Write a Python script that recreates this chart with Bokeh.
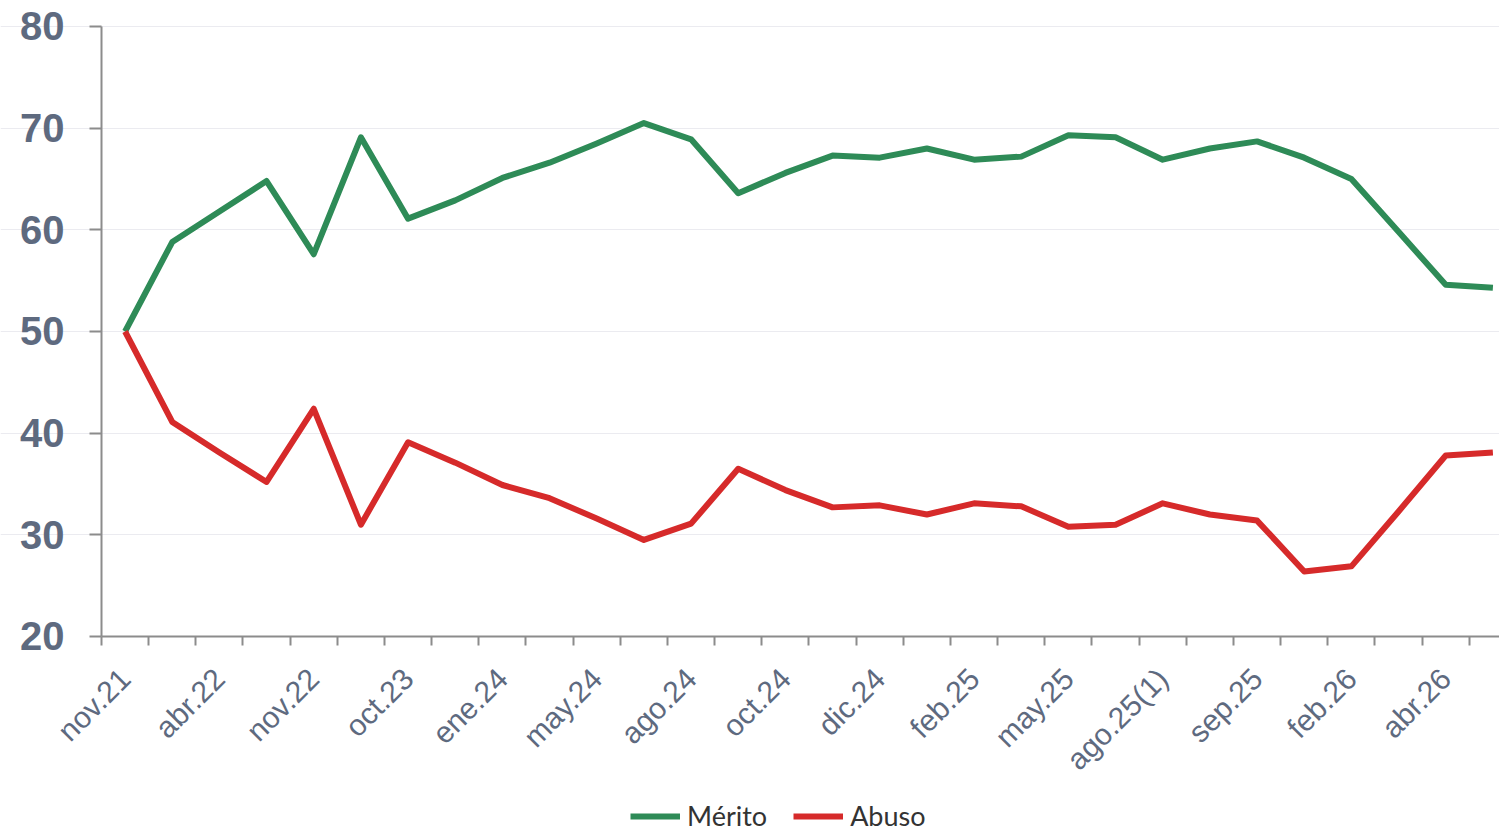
import math
from bokeh.plotting import figure
from bokeh.models import Range1d, FixedTicker, Legend, LegendItem
from bokeh.embed import file_html
from bokeh.resources import INLINE

tick_labels = ["nov.21", "abr.22", "nov.22", "oct.23", "ene.24", "may.24", "ago.24",
               "oct.24", "dic.24", "feb.25", "may.25", "ago.25(1)", "sep.25", "feb.26", "abr.26"]

merito = [50.0, 58.8, 61.8, 64.8, 57.6, 69.1, 61.1, 62.9, 65.1, 66.6,
          68.5, 70.5, 68.9, 63.6, 65.6, 67.3, 67.1, 68.0, 66.9, 67.2,
          69.3, 69.1, 66.9, 68.0, 68.7, 67.1, 65.0, 59.8, 54.6, 54.3]
abuso = [50.0, 41.1, 38.1, 35.2, 42.4, 31.0, 39.1, 37.1, 34.9, 33.6,
         31.6, 29.5, 31.1, 36.5, 34.4, 32.7, 32.9, 32.0, 33.1, 32.8,
         30.8, 31.0, 33.1, 32.0, 31.4, 26.4, 26.9, 32.3, 37.8, 38.1]

x = list(range(len(merito)))

TXT = "#5e6a7f"
AX = "#8c8c8c"

# the frame covers the whole figure; both axes are pinned inside it
p = figure(width=1499, height=832, output_backend="svg", toolbar_location=None,
           x_range=Range1d(-2.641, 29.14), y_range=Range1d(0.72, 82.557),
           min_border_left=0, min_border_top=0, min_border_right=0,
           min_border_bottom=0)
p.outline_line_color = None
p.background_fill_color = "white"

r1 = p.line(x, merito, line_width=6, color="#2e8b57", line_join="round")
r2 = p.line(x, abuso, line_width=6, color="#d62a2a", line_join="round")

# grid
p.xgrid.grid_line_color = None
p.ygrid.ticker = FixedTicker(ticks=[30, 40, 50, 60, 70, 80])
p.ygrid.bounds = (-0.5, 30)
p.ygrid.grid_line_color = "#ebebf0"
p.ygrid.grid_line_width = 1

# y axis
p.yaxis.fixed_location = -0.5
p.yaxis.ticker = FixedTicker(ticks=[20, 30, 40, 50, 60, 70, 80])
p.yaxis.bounds = (20, 80)
p.yaxis.axis_line_color = AX
p.yaxis.axis_line_width = 2
p.yaxis.major_tick_line_color = AX
p.yaxis.major_tick_line_width = 2
p.yaxis.major_tick_out = 12
p.yaxis.major_tick_in = 0
p.yaxis.minor_tick_line_color = None
p.yaxis.major_label_standoff = 25
p.yaxis.major_label_text_font = "Liberation Sans"
p.yaxis.major_label_text_font_style = "bold"
p.yaxis.major_label_text_font_size = "40px"
p.yaxis.major_label_text_color = TXT

# x axis
label_pos = list(range(0, 30, 2))
p.xaxis.fixed_location = 20
p.xaxis.bounds = (-0.5, 30)
p.xaxis.ticker = FixedTicker(ticks=label_pos, minor_ticks=[i - 0.5 for i in range(30)])
p.xaxis.major_label_overrides = {k: v for k, v in zip(label_pos, tick_labels)}
p.xaxis.axis_line_color = AX
p.xaxis.axis_line_width = 2
p.xaxis.major_tick_line_color = None
p.xaxis.major_tick_out = 0
p.xaxis.major_tick_in = 0
p.xaxis.minor_tick_line_color = AX
p.xaxis.minor_tick_line_width = 2
p.xaxis.minor_tick_out = 9
p.xaxis.minor_tick_in = 0
p.xaxis.major_label_orientation = math.pi / 4
p.xaxis.major_label_standoff = 28
p.xaxis.major_label_text_font = "Liberation Sans"
p.xaxis.major_label_text_font_size = "30px"
p.xaxis.major_label_text_color = TXT

legend = Legend(items=[LegendItem(label="Mérito", renderers=[r1]),
                       LegendItem(label="Abuso", renderers=[r2])],
                orientation="horizontal", location=(630, 0))
legend.border_line_color = None
legend.background_fill_alpha = 0
legend.padding = 0
legend.margin = 0
legend.spacing = 26
legend.glyph_width = 50
legend.glyph_height = 24
legend.label_standoff = 7
legend.label_text_font = "Lato"
legend.label_text_font_size = "27px"
legend.label_text_color = "#333333"
p.add_layout(legend, "center")

open("out.html", "w").write(file_html(p, INLINE))
